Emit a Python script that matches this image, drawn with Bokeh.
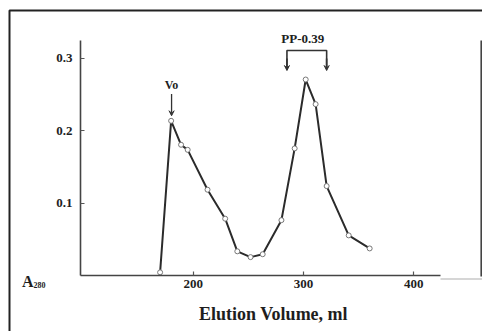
from bokeh.plotting import figure
from bokeh.models import Range1d, FixedTicker, Label, Arrow, VeeHead
from bokeh.embed import file_html
from bokeh.resources import INLINE

# ---- data ----
volume = [170, 180, 189, 195, 213, 229, 240, 252, 263, 280, 292, 302, 311, 321, 341, 360]
a280 = [0.005, 0.214, 0.181, 0.174, 0.119, 0.079, 0.034, 0.026, 0.030, 0.077,
        0.176, 0.271, 0.237, 0.124, 0.056, 0.038]
x_ticks = [200, 300, 400]
y_ticks = [0.1, 0.2, 0.3]
vo_volume = 180.4
pp_left = 285
pp_right = 321
pp_center = 299.4
x_title = "Elution Volume, ml"

FONT = "Liberation Serif"
INK = "#1e1e1e"

W, H = 482, 331
# frame covers whole canvas; axes are placed with fixed_location
x0, x1 = 25.3, 462.3
y0, y1 = -0.0766, 0.38
ax_x_lo, ax_x_hi = 97.8, 424.2
ax_y_hi = 0.3255


def px_x(px):
    return x0 + px * (x1 - x0) / W


def px_y(py):
    return y1 - py * (y1 - y0) / H


p = figure(width=W, height=H, output_backend="svg", toolbar_location=None,
           x_range=Range1d(x0, x1), y_range=Range1d(y0, y1),
           min_border=0)
p.outline_line_color = None
p.xgrid.visible = False
p.ygrid.visible = False
p.background_fill_color = "white"
p.border_fill_color = "white"

for ax in (p.xaxis[0], p.yaxis[0]):
    ax.axis_line_color = "#444444"
    ax.axis_line_width = 1.6
    ax.major_tick_line_color = "#555555"
    ax.major_tick_line_width = 1.2
    ax.major_tick_in = 4
    ax.major_tick_out = 0
    ax.minor_tick_line_color = None
    ax.major_label_text_font = FONT
    ax.major_label_text_font_style = "bold"
    ax.major_label_text_font_size = "13px"
    ax.major_label_text_color = INK

xa, ya = p.xaxis[0], p.yaxis[0]
xa.ticker = FixedTicker(ticks=x_ticks)
ya.ticker = FixedTicker(ticks=y_ticks)
xa.fixed_location = 0
ya.fixed_location = ax_x_lo
xa.bounds = (ax_x_lo, ax_x_hi)
ya.bounds = (0, ax_y_hi)
ya.major_label_standoff = 8
xa.major_label_standoff = 4

# x-axis title
p.add_layout(Label(x=px_x(273), y=px_y(313), text=x_title, text_font=FONT,
                   text_font_style="bold", text_font_size="18px",
                   text_align="center", text_baseline="middle", text_color=INK))

# curve
p.line(volume, a280, line_color="#2b2b2b", line_width=2)
p.scatter(volume, a280, size=5, marker="circle", fill_color="white",
          line_color="#777777", line_width=1)

# Vo marker
p.add_layout(Label(x=vo_volume, y=0.2637, text="Vo", text_font=FONT,
                   text_font_style="bold", text_font_size="12px",
                   text_align="center", text_baseline="middle", text_color=INK))
p.add_layout(Arrow(x_start=vo_volume, y_start=0.251, x_end=vo_volume, y_end=0.221,
                   line_color="#333333", line_width=1.3,
                   end=VeeHead(size=5, line_color="#333333", fill_color="#333333")))

# PP-0.39 bracket
p.add_layout(Label(x=pp_center, y=0.327, text="PP-0.39",
                   text_font=FONT, text_font_style="bold", text_font_size="13px",
                   text_align="center", text_baseline="middle", text_color=INK))
p.line([pp_left, pp_left, pp_right, pp_right], [0.2860, 0.311, 0.311, 0.2860],
       line_color="#333333", line_width=1.6)
for xv in (pp_left, pp_right):
    p.add_layout(Arrow(x_start=xv, y_start=0.300, x_end=xv, y_end=0.2834,
                       line_color="#333333", line_width=1.6,
                       end=VeeHead(size=5, line_color="#333333", fill_color="#333333")))

# A280 caption
p.add_layout(Label(x=px_x(21.5), y=px_y(281), text="A", text_font=FONT,
                   text_font_style="bold", text_font_size="16px",
                   text_baseline="alphabetic", text_color=INK))
p.add_layout(Label(x=px_x(33), y=px_y(284), text="280", text_font=FONT,
                   text_font_style="bold", text_font_size="8px",
                   text_baseline="alphabetic", text_color=INK))

# decorative outer frame (partial, as in the picture)
p.line([px_x(9), px_x(9), px_x(482)], [px_y(331), px_y(10), px_y(10)],
       line_color="#222222", line_width=2)
p.line([px_x(480.7), px_x(480.7)], [px_y(40), px_y(276)],
       line_color="#444444", line_width=1.6)
p.line([px_x(440), px_x(482)], [px_y(278.5), px_y(278.5)],
       line_color="#c8c8c8", line_width=1.5)

open("out.html", "w").write(file_html(p, INLINE))
